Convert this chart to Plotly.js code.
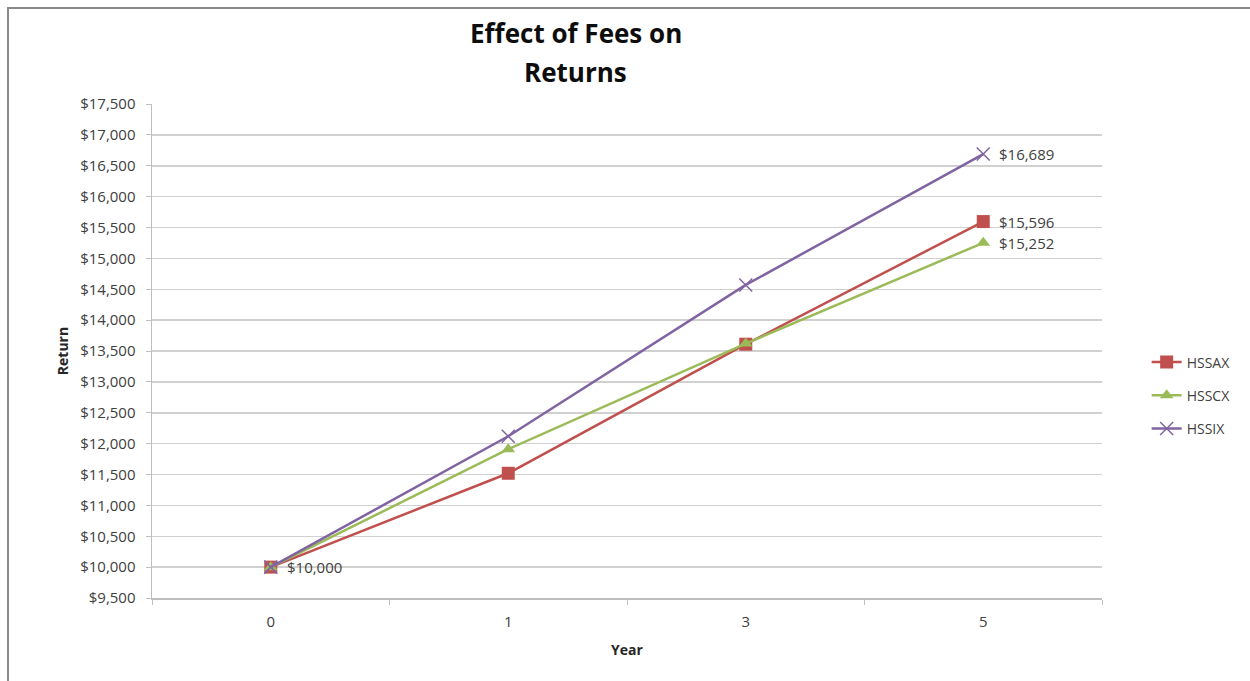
<!DOCTYPE html>
<html>
<head>
<meta charset="utf-8">
<script src="https://cdn.plot.ly/plotly-3.0.1.min.js"></script>
<style>
html,body{margin:0;padding:0;background:#fff;overflow:hidden;}
#chart{position:absolute;left:0;top:0;width:1250px;height:681px;}
#frame{position:absolute;left:7px;top:7px;width:1260px;height:700px;border:2px solid #8a8a8a;pointer-events:none;}
</style>
</head>
<body>
<div id="chart"></div>
<div id="frame"></div>
<script>
// Data
const years = ['0', '1', '3', '5'];
const seriesNames = ['HSSAX', 'HSSCX', 'HSSIX'];
const hssax = [10000, 11520, 13610, 15596];
const hsscx = [10000, 11910, 13620, 15252];
const hssix = [10000, 12120, 14570, 16689];
const yTickVals = [9500, 10000, 10500, 11000, 11500, 12000, 12500, 13000, 13500, 14000, 14500, 15000, 15500, 16000, 16500, 17000, 17500];
const titleLines = ['Effect of Fees on', 'Returns'];
// which points carry a data label: [series values, point index]
const labelled = [[hssix, 0], [hssix, 3], [hssax, 3], [hsscx, 3]];

const fmt = v => '$' + v.toLocaleString('en-US');

const FONT = 'Open Sans, Liberation Sans, sans-serif';
const TXT = '#404040';

const traces = [
  {x: years, y: hssax, name: seriesNames[0], legendgroup: 'a', type: 'scatter', mode: 'lines+markers',
   line: {color: '#C0504D', width: 2.5}, marker: {symbol: 'square', size: 13, color: '#C0504D'}, cliponaxis: false},
  {x: years, y: hsscx, name: seriesNames[1], legendgroup: 'c', type: 'scatter', mode: 'lines+markers',
   line: {color: '#9BBB59', width: 2.5}, marker: {symbol: 'triangle-up', size: 12, color: '#9BBB59'}, cliponaxis: false},
  {x: years, y: hssix, name: seriesNames[2], legendgroup: 'i', type: 'scatter', mode: 'lines+markers',
   line: {color: '#8064A2', width: 2.5}, marker: {symbol: 'x-thin', size: 13, line: {color: '#8064A2', width: 1.5}, color: '#8064A2'}, cliponaxis: false}
];

// on a category axis an annotation's x is the category's index
const annotations = labelled.map(([vals, i]) => ({
  x: i, y: vals[i], xref: 'x', yref: 'y', text: fmt(vals[i]), showarrow: false,
  xanchor: 'left', yanchor: 'middle', xshift: 14, font: {family: FONT, size: 15, color: TXT}
}));
titleLines.forEach((t, k) => annotations.push({
  text: '<b>' + t + '</b>', xref: 'paper', yref: 'paper', x: 0.446, y: k === 0 ? 1.1437 : 1.0648,
  xanchor: 'center', yanchor: 'middle', showarrow: false, font: {family: FONT, size: 26, color: '#0d0d0d'}
}));

const layout = {
  width: 1250, height: 681,
  margin: {l: 152, r: 148, t: 104, b: 83},
  paper_bgcolor: '#ffffff', plot_bgcolor: '#ffffff',
  font: {family: FONT, color: TXT, size: 15},
  annotations: annotations,
  xaxis: {
    type: 'category', range: [-0.5, 3.5],
    title: {text: '<b>Year</b>', font: {family: FONT, size: 14, color: '#262626'}, standoff: 15},
    showgrid: false, showline: true, linecolor: '#bfbfbf', linewidth: 1.5,
    ticks: 'outside', tickson: 'boundaries', ticklen: 5, tickcolor: '#bfbfbf', ticklabelstandoff: 9,
    tickfont: {family: FONT, size: 15, color: TXT}, zeroline: false
  },
  yaxis: {
    range: [9500, 17500], tickvals: yTickVals, ticktext: yTickVals.map(fmt),
    title: {text: '<b>Return</b>', font: {family: FONT, size: 14, color: '#262626'}, standoff: 8},
    showgrid: true, gridcolor: '#d0d0d0', gridwidth: 1.5,
    showline: true, linecolor: '#bfbfbf', linewidth: 1.5,
    ticks: 'outside', ticklen: 5, tickcolor: '#bfbfbf', ticklabelstandoff: 7,
    tickfont: {family: FONT, size: 15, color: TXT}, zeroline: false
  },
  showlegend: true,
  legend: {x: 1.047, xanchor: 'left', y: 0.41, yanchor: 'middle', traceorder: 'grouped', tracegroupgap: 12,
           font: {family: FONT, size: 14, color: TXT}, bgcolor: 'rgba(0,0,0,0)', itemwidth: 30}
};

Plotly.newPlot('chart', traces, layout, {displayModeBar: false, staticPlot: true});
</script>
</body>
</html>
